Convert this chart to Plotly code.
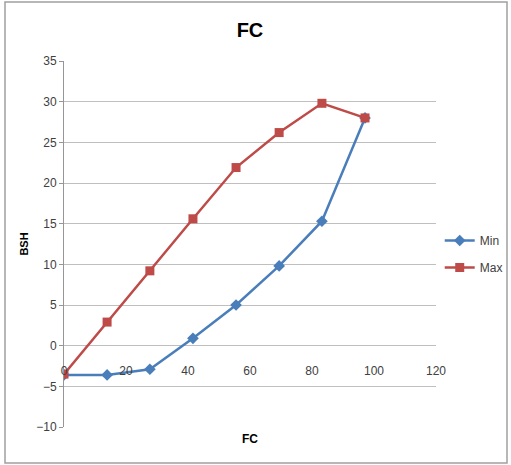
import plotly.graph_objects as go

fc = [0, 13.9, 27.7, 41.6, 55.5, 69.4, 83.2, 97.1]
bsh_min = [-3.6, -3.6, -2.9, 0.9, 5.0, 9.8, 15.3, 28.0]
bsh_max = [-3.5, 2.9, 9.2, 15.6, 21.9, 26.2, 29.8, 28.0]
x_ticks = [0, 20, 40, 60, 80, 100, 120]
y_ticks = [-10, -5, 0, 5, 10, 15, 20, 25, 30, 35]

FONT = "Liberation Sans Narrow, Liberation Sans, Arial, sans-serif"

fig = go.Figure()
fig.add_trace(go.Scatter(x=fc, y=bsh_min, name="Min", mode="lines+markers",
                         legendgroup="a",
                         line=dict(color="#4A7EBB", width=2.5),
                         marker=dict(symbol="diamond", size=9, color="#4A7EBB")))
fig.add_trace(go.Scatter(x=fc, y=bsh_max, name="Max", mode="lines+markers",
                         legendgroup="b",
                         line=dict(color="#BE4B48", width=2.5),
                         marker=dict(symbol="square", size=9, color="#BE4B48")))

fig.update_layout(
    width=511, height=465,
    margin=dict(l=64, r=75, t=61, b=38, autoexpand=False),
    paper_bgcolor="white", plot_bgcolor="white",
    font=dict(family=FONT, size=12, color="#404040"),
    title=dict(text="<b>FC</b>", x=(64 + 372 / 2) / 511, xanchor="center",
               y=1 - 30 / 465, yanchor="middle",
               font=dict(size=20, color="black", family=FONT)),
    xaxis=dict(range=[0, 120], tickvals=x_ticks, showgrid=False, zeroline=False,
               anchor="free", position=10 / 45, showline=False,
               ticks="outside", ticklen=14, tickcolor="rgba(0,0,0,0)",
               tickfont=dict(size=12, color="#404040")),
    yaxis=dict(range=[-10, 35], tickvals=y_ticks, showgrid=True, gridcolor="#BFBFBF",
               gridwidth=1, zeroline=False, showline=True, linecolor="#969696",
               ticks="outside", ticklen=4, tickcolor="#969696",
               title=dict(text="<b>BSH</b>", standoff=5, font=dict(size=11, color="black")),
               tickfont=dict(size=12, color="#404040")),
    legend=dict(x=1.01, y=(427 - 254) / 366, xanchor="left", yanchor="middle",
                font=dict(size=12, color="#404040"), bgcolor="rgba(0,0,0,0)",
                itemwidth=30, tracegroupgap=8),
    showlegend=True,
)

fig.add_annotation(text="<b>FC</b>", x=0.5, y=-10, xref="paper", yref="y",
                   yshift=-12, showarrow=False, font=dict(size=12, color="black", family=FONT))

fig.add_shape(type="rect", xref="paper", yref="paper",
              x0=(5 - 64) / 372, x1=(507 - 64) / 372,
              y0=(427 - 463) / 366, y1=(427 - 2) / 366,
              line=dict(color="#A0A0A0", width=1.5), fillcolor="rgba(0,0,0,0)", layer="below")

fig.write_html("out.html")
